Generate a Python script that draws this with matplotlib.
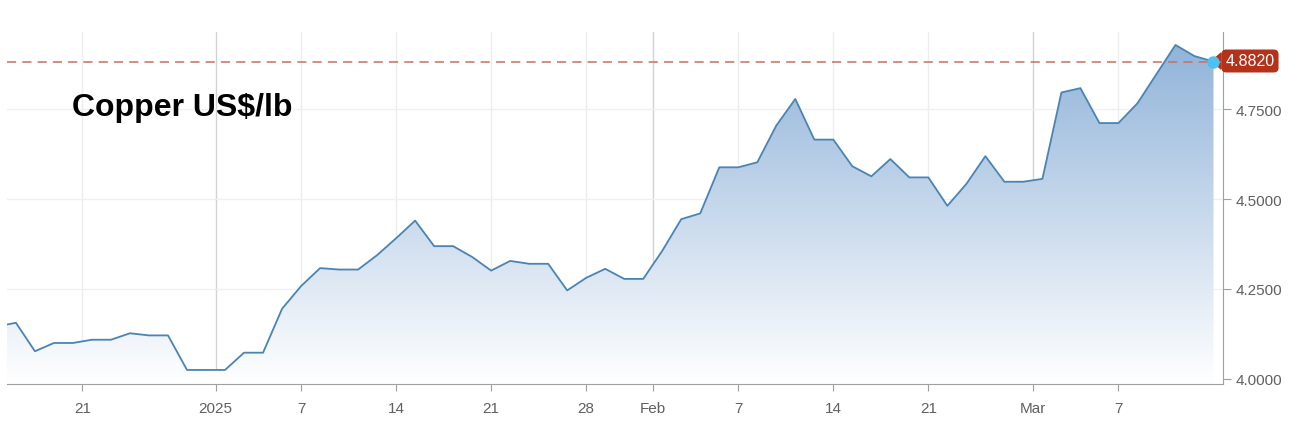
import numpy as np
import pandas as pd
import matplotlib
matplotlib.use("Agg")
import matplotlib.pyplot as plt
from matplotlib.patches import Polygon
from matplotlib.colors import LinearSegmentedColormap

plt.rcParams['font.family'] = ['Liberation Sans', 'DejaVu Sans']

# trading days, Dec 16 2024 .. Mar 14 2025
dates = pd.bdate_range('2024-12-16', '2025-03-14')
prices = [
    4.146, 4.156, 4.077, 4.100, 4.100,          # Dec 16-20
    4.109, 4.109, 4.127, 4.121, 4.121,          # Dec 23-27
    4.025, 4.025, 4.025, 4.073, 4.073,          # Dec 30 - Jan 3
    4.195, 4.258, 4.308, 4.304, 4.304,          # Jan 6-10
    4.344, 4.391, 4.440, 4.369, 4.369,          # Jan 13-17
    4.339, 4.301, 4.328, 4.320, 4.320,          # Jan 20-24
    4.246, 4.281, 4.306, 4.278, 4.278,          # Jan 27-31
    4.356, 4.444, 4.460, 4.588, 4.588,          # Feb 3-7
    4.602, 4.704, 4.778, 4.665, 4.665,          # Feb 10-14
    4.591, 4.563, 4.611, 4.560, 4.560,          # Feb 17-21
    4.481, 4.542, 4.619, 4.548, 4.548,          # Feb 24-28
    4.556, 4.796, 4.808, 4.711, 4.711,          # Mar 3-7
    4.766, 4.847, 4.928, 4.897, 4.882,          # Mar 10-14
]
last_value = 4.882

tick_pos = [4.5, 11.5, 16, 21, 26, 31, 34.5, 39, 44, 49, 54.5, 59]
tick_labels = ['21', '2025', '7', '14', '21', '28', 'Feb', '7', '14', '21', 'Mar', '7']
month_ticks = ['2025', 'Feb', 'Mar']
y_ticks = [4.0, 4.25, 4.5, 4.75]

x = np.arange(len(prices))
y = np.array(prices)

W, H = 1296, 439
fig = plt.figure(figsize=(W / 100, H / 100), dpi=100)
ax = fig.add_axes([7 / W, 54 / H, 1216 / W, 352 / H])
ax.patch.set_alpha(0)

ymin, ymax = 3.986, 4.964
xmin, xmax = 0.53, 64.5
ax.set_xlim(xmin, xmax)
ax.set_ylim(ymin, ymax)

# grid
for p, lab in zip(tick_pos, tick_labels):
    c = '#d2d2d2' if lab in month_ticks else '#ededed'
    ax.axvline(p, color=c, lw=1, zorder=0)
for v in y_ticks[1:]:
    ax.axhline(v, color='#f0f0f0', lw=1, zorder=0)

# gradient fill under the line
cmap = LinearSegmentedColormap.from_list('fill', ['#ffffff', '#8db1d8'])
grad = np.linspace(0, 1, 256).reshape(-1, 1)
img = ax.imshow(grad, cmap=cmap, origin='lower', aspect='auto',
                extent=[xmin, xmax, ymin, ymax], zorder=1)
clip = Polygon(np.vstack([np.column_stack([x, y]),
                          [[x[-1], ymin], [x[0], ymin]]]),
               closed=True, transform=ax.transData)
img.set_clip_path(clip)

ax.plot(x, y, color='#4a84b4', lw=1.3, zorder=3)
ax.axhline(last_value, color='#c8705a', lw=1.1, ls=(0, (6, 4)), zorder=2)
ax.plot(x[-1], y[-1], 'o', color='#4cc2f2', ms=9, mec='none', zorder=4,
        clip_on=False)

# axes styling
for s in ['top', 'left']:
    ax.spines[s].set_visible(False)
ax.spines['bottom'].set_color('#a0a0a0')
ax.spines['right'].set_color('#a0a0a0')
ax.yaxis.tick_right()
ax.set_yticks(y_ticks)
ax.set_yticklabels(['%.4f' % v for v in y_ticks])
ax.set_xticks(tick_pos)
ax.set_xticklabels(tick_labels)
ax.tick_params(axis='x', colors='#a0a0a0', labelcolor='#606060',
               labelsize=11, length=5, pad=7)
ax.tick_params(axis='y', colors='#a0a0a0', labelcolor='#606060',
               labelsize=11, length=6, pad=3)

ax.text(0.0535, 0.787, 'Copper US$/lb', transform=ax.transAxes,
        fontsize=23, fontweight='bold', color='black', va='center', ha='left')

# last value badge (arrow sits behind the axes so the marker stays on top)
fy = (H - 62) / H
fig.patches.append(Polygon([[1212 / W, fy], [1221 / W, (H - 54) / H],
                            [1221 / W, (H - 70) / H]], closed=True,
                           transform=fig.transFigure, color='#b5321a',
                           zorder=-1))
fig.text(1250 / W, fy, '4.8820', color='white', fontsize=11.5,
         ha='center', va='center', zorder=6,
         bbox=dict(boxstyle='round,pad=0.25,rounding_size=0.3',
                   fc='#b5321a', ec='none'))

fig.savefig('out.png', dpi=100)
